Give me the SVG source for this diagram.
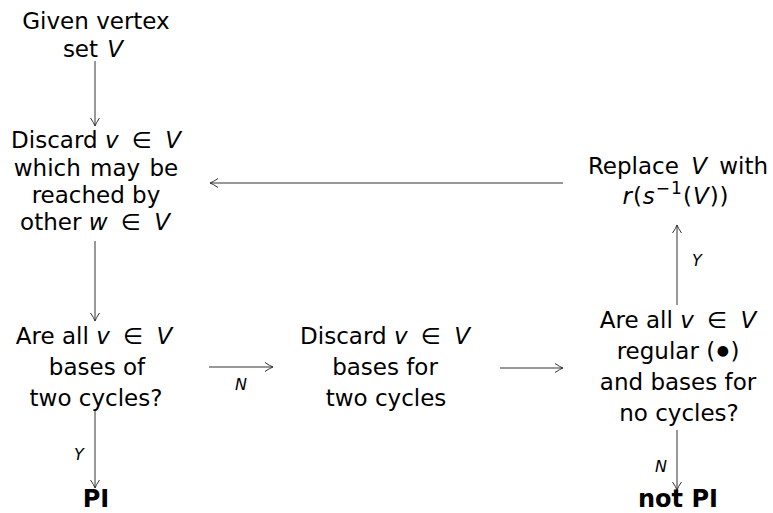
<svg xmlns="http://www.w3.org/2000/svg" width="773" height="513" viewBox="0 0 773 513">
<style>
text{font-family:"DejaVu Sans","Liberation Sans",sans-serif;font-size:23px;fill:#000;text-anchor:middle}
.i{font-style:italic}
.b{font-weight:bold;font-size:24px}
.lbl{font-size:16px;font-style:italic}
.c{fill:none;stroke:#333;stroke-width:1}
</style>
<defs>
<marker id="arr" viewBox="-10 -6 12 12" refX="0" refY="0" markerWidth="12" markerHeight="12" markerUnits="userSpaceOnUse" orient="auto">
<path d="M-8,-4.5 Q-3,-1 0,0 Q-3,1 -8,4.5" fill="none" stroke="#333" stroke-width="1"/>
</marker>
</defs>
<g id="connectors">
<path class="c" d="M95,61 L95,126" marker-end="url(#arr)"/>
<path class="c" d="M95,241 L95,321" marker-end="url(#arr)"/>
<path class="c" d="M95,411 L95,488" marker-end="url(#arr)"/>
<path class="c" d="M209,367 L273,367" marker-end="url(#arr)"/>
<path class="c" d="M500,368 L563,368" marker-end="url(#arr)"/>
<path class="c" d="M677,305 L677,225" marker-end="url(#arr)"/>
<path class="c" d="M677,430 L677,490" marker-end="url(#arr)"/>
<path class="c" d="M563,183 L210,183" marker-end="url(#arr)"/>
<text class="lbl" x="241" y="390">N</text>
<text class="lbl" x="79" y="460">Y</text>
<text class="lbl" x="697" y="266">Y</text>
<text class="lbl" x="661" y="472">N</text>
</g>
<g id="given">
<text x="96" y="29">Given vertex</text>
<text x="93" y="57" word-spacing="2">set <tspan class="i">V</tspan></text>
</g>
<g id="discard1">
<text x="96" y="148">Discard <tspan class="i">v</tspan><tspan dx="6"> ∈ </tspan><tspan class="i" dx="6">V</tspan></text>
<text x="96" y="176" word-spacing="2">which may be</text>
<text x="96" y="203">reached by</text>
<text x="95" y="230">other <tspan class="i">w</tspan><tspan dx="6"> ∈ </tspan><tspan class="i" dx="6">V</tspan></text>
</g>
<g id="check1">
<text x="94" y="344">Are all <tspan class="i">v</tspan><tspan dx="6"> ∈ </tspan><tspan class="i" dx="6">V</tspan></text>
<text x="97" y="375">bases of</text>
<text x="96" y="406">two cycles?</text>
</g>
<g id="pi">
<text class="b" x="96" y="507">PI</text>
</g>
<g id="discard2">
<text x="385" y="344">Discard <tspan class="i">v</tspan><tspan dx="6"> ∈ </tspan><tspan class="i" dx="6">V</tspan></text>
<text x="385" y="375">bases for</text>
<text x="386" y="406">two cycles</text>
</g>
<g id="check2">
<text x="678" y="328">Are all <tspan class="i">v</tspan><tspan dx="6"> ∈ </tspan><tspan class="i" dx="6">V</tspan></text>
<text x="678" y="359">regular (<tspan font-size="14" dx="1.5" dy="-4">●</tspan><tspan dx="1.5" dy="4">)</tspan></text>
<text x="678" y="390">and bases for</text>
<text x="679" y="421">no cycles?</text>
</g>
<g id="notpi">
<text class="b" x="678" y="507">not PI</text>
</g>
<g id="replace">
<text x="678" y="174" word-spacing="5">Replace <tspan class="i">V</tspan> with</text>
<text x="676" y="204" font-size="25" letter-spacing="1"><tspan class="i">r</tspan>(<tspan class="i">s</tspan><tspan font-size="17" dy="-10">−1</tspan><tspan dy="10">(</tspan><tspan class="i">V</tspan>))</text>
</g>
</svg>
